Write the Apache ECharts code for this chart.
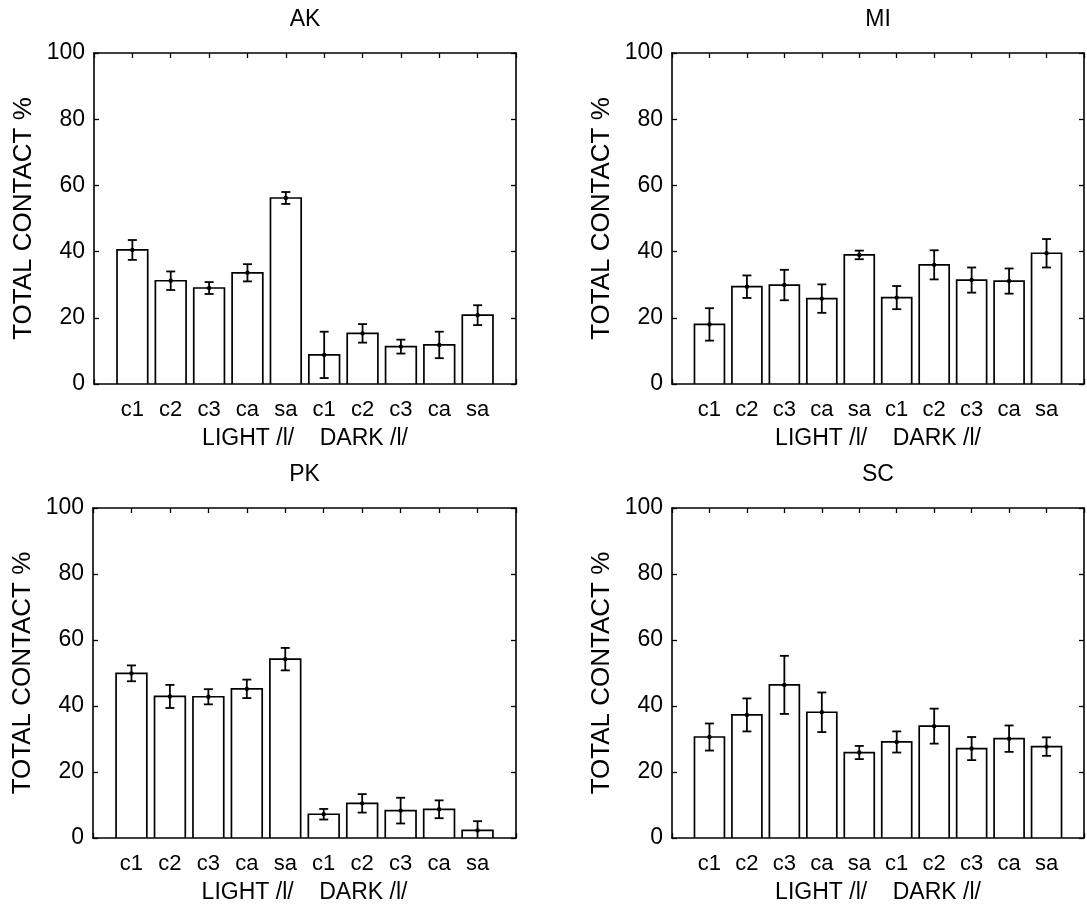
<!DOCTYPE html>
<html>
<head>
<meta charset="utf-8">
<script src="https://cdn.jsdelivr.net/npm/echarts@6/dist/echarts.min.js"></script>
<style>
  html, body { margin: 0; background: #fff; }
  #main { width: 1087px; height: 905px; }
</style>
</head>
<body>
<div id="main"></div>
<script>
// bar groups: LIGHT /l/ then DARK /l/
var categories = ['c1', 'c2', 'c3', 'ca', 'sa', 'c1', 'c2', 'c3', 'ca', 'sa'];
var panelNames = ['AK', 'MI', 'PK', 'SC'];
var groupLabel = 'LIGHT /l/    DARK /l/';
var yTicks = [0, 20, 40, 60, 80, 100];

var akMean = [40.5, 31.2, 29.0, 33.6, 56.2, 8.8, 15.3, 11.3, 11.8, 20.8];
var akErr  = [3.0, 2.8, 1.8, 2.6, 1.8, 7.0, 2.8, 2.1, 4.0, 3.0];
var miMean = [18.0, 29.4, 29.9, 25.8, 39.0, 26.1, 36.0, 31.4, 31.1, 39.5];
var miErr  = [4.9, 3.4, 4.6, 4.3, 1.3, 3.5, 4.4, 3.8, 3.8, 4.3];
var pkMean = [49.9, 42.9, 42.8, 45.2, 54.2, 7.2, 10.5, 8.3, 8.7, 2.3];
var pkErr  = [2.4, 3.5, 2.3, 2.8, 3.4, 1.6, 2.8, 3.9, 2.7, 2.8];
var scMean = [30.6, 37.3, 46.4, 38.1, 25.9, 29.1, 33.9, 27.1, 30.1, 27.7];
var scErr  = [4.1, 5.0, 8.8, 6.0, 2.0, 3.2, 5.3, 3.5, 4.0, 2.8];

var means = [akMean, miMean, pkMean, scMean];
var errs = [akErr, miErr, pkErr, scErr];

var chart = echarts.init(document.getElementById('main'), null, { renderer: 'canvas' });
var font = "'Liberation Sans', Arial, Helvetica, sans-serif";

// plot boxes (MI / SC run past the right edge, like the original crop)
var boxes = [
  { left: 94, top: 53, width: 422, height: 331 },
  { left: 672, top: 53, width: 423, height: 331 },
  { left: 93, top: 508, width: 423, height: 332 },
  { left: 672, top: 508, width: 423, height: 332 }
];

function renderBar(params, api) {
  var x = api.value(0), m = api.value(1), e = api.value(2);
  var tl = api.coord([x - 0.4, m]);
  var br = api.coord([x + 0.4, 0]);
  var hi = api.coord([x, m + e]);
  var lo = api.coord([x, m - e]);
  var mid = api.coord([x, m]);
  var cap = 4.5;
  var ink = { stroke: '#000', lineWidth: 1.8 };
  return {
    type: 'group',
    children: [
      { type: 'rect', shape: { x: tl[0], y: tl[1], width: br[0] - tl[0], height: br[1] - tl[1] },
        style: { fill: '#fff', stroke: '#000', lineWidth: 1.7 } },
      { type: 'line', shape: { x1: hi[0], y1: hi[1], x2: lo[0], y2: lo[1] }, style: ink },
      { type: 'line', shape: { x1: hi[0] - cap, y1: hi[1], x2: hi[0] + cap, y2: hi[1] }, style: ink },
      { type: 'line', shape: { x1: lo[0] - cap, y1: lo[1], x2: lo[0] + cap, y2: lo[1] }, style: ink },
      { type: 'circle', shape: { cx: mid[0], cy: mid[1], r: 2.2 }, style: { fill: '#000' } }
    ]
  };
}

var grid = [], xAxis = [], yAxis = [], series = [];
var line = { show: true, onZero: false, lineStyle: { color: '#000', width: 1.6 } };
var tick = { show: true, inside: true, length: 5, lineStyle: { color: '#000', width: 1.3 } };

for (var i = 0; i < 4; i++) {
  grid.push(boxes[i]);
  xAxis.push({
    type: 'value', gridIndex: i, min: 0, max: 11, interval: 1, position: 'bottom',
    axisLine: line, axisTick: tick, splitLine: { show: false },
    axisLabel: {
      margin: 15, color: '#000', fontSize: 22, fontFamily: font,
      formatter: function (v) { return categories[v - 1] || ''; }
    },
    name: groupLabel, nameLocation: 'middle', nameGap: 43,
    nameTextStyle: { color: '#000', fontSize: 23, fontFamily: font }
  });
  xAxis.push({
    type: 'value', gridIndex: i, min: 0, max: 11, interval: 1, position: 'top',
    axisLine: line, axisTick: tick, axisLabel: { show: false }, splitLine: { show: false },
    name: panelNames[i], nameLocation: 'middle', nameGap: 22,
    nameTextStyle: { color: '#000', fontSize: 23, fontFamily: font }
  });
  yAxis.push({
    type: 'value', gridIndex: i, min: yTicks[0], max: yTicks[yTicks.length - 1], interval: 20,
    position: 'left', axisLine: line, axisTick: tick, splitLine: { show: false },
    axisLabel: { margin: 9, color: '#000', fontSize: 23, fontFamily: font },
    name: 'TOTAL CONTACT %', nameLocation: 'middle', nameGap: 57,
    nameTextStyle: { color: '#000', fontSize: 26, fontFamily: font }
  });
  yAxis.push({
    type: 'value', gridIndex: i, min: 0, max: 100, interval: 20, position: 'right',
    axisLine: line, axisTick: tick, axisLabel: { show: false }, splitLine: { show: false }
  });
  series.push({
    type: 'custom',
    xAxisIndex: 2 * i,
    yAxisIndex: 2 * i,
    clip: true,
    renderItem: renderBar,
    data: means[i].map(function (m, k) { return [k + 1, m, errs[i][k]]; })
  });
}

chart.setOption({
  animation: false,
  backgroundColor: '#fff',
  grid: grid,
  xAxis: xAxis,
  yAxis: yAxis,
  series: series
});
</script>
</body>
</html>
